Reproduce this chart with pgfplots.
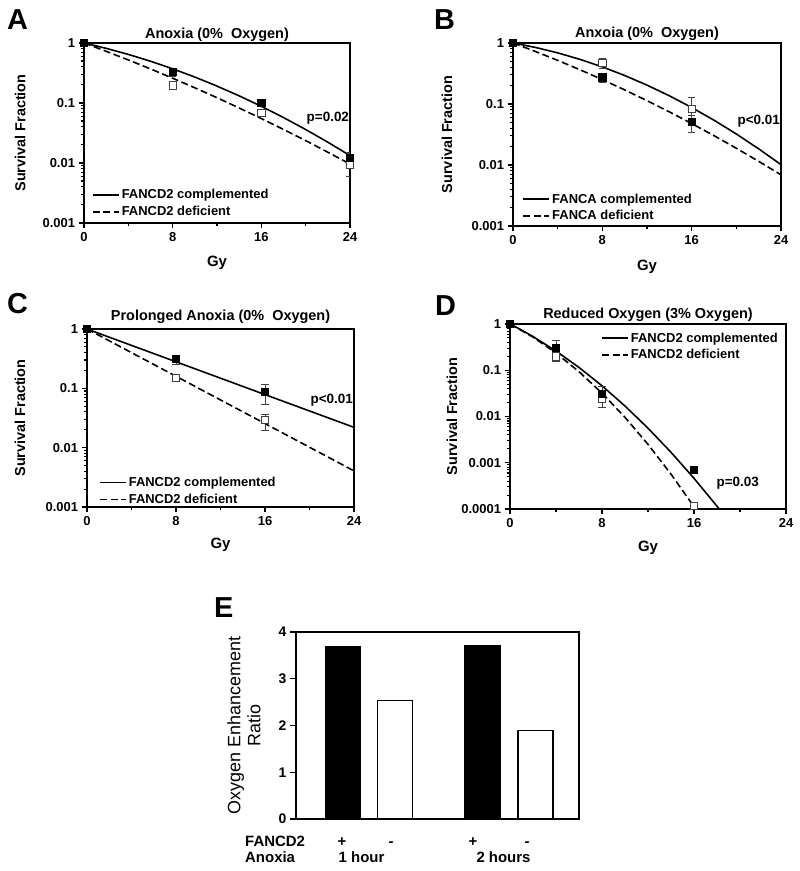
\documentclass[border=0pt]{standalone}
\usepackage{pgfplots}
\pgfplotsset{compat=1.18}
\usepackage{fontspec}
\setmainfont{Liberation Sans}

\pgfplotsset{
 every axis title shift=0pt,
 solidc/.style={black, line width=1.6pt, no marks},
 dashc/.style={black, line width=1.6pt, no marks, dash pattern=on 7bp off 3.5bp},
}

\begin{document}
\begin{tikzpicture}[x=1bp,y=1bp]
\useasboundingbox (0,0) rectangle (800,871);

% ---------------- A ----------------
\begin{axis}[scale only axis, anchor=north west, ymode=log, xmin=0, xmax=24,
  xtick={0,8,16,24}, xticklabels={\textbf{0},\textbf{8},\textbf{16},\textbf{24}}, minor xtick={4,12,20},
  tick align=outside, xtick pos=bottom, ytick pos=left,
  major tick length=5.5bp, minor tick length=3.5bp,
  axis line style={line width=1.5pt},
  every tick/.append style={line width=1.1pt, black},
  tick label style={font=\fontsize{13}{14}\selectfont\bfseries},
  xlabel={Gy}, ylabel={Survival Fraction},
  xlabel style={font=\fontsize{15}{16}\selectfont\bfseries, anchor=center},
  ylabel style={font=\fontsize{14.5}{16}\selectfont\bfseries, anchor=center},
  title style={font=\fontsize{14.5}{16}\selectfont\bfseries, anchor=center, yshift=0pt},
  legend style={draw=none, fill=none, font=\fontsize{13}{15}\selectfont\bfseries, inner sep=0pt, row sep=2pt},
  legend cell align=left, legend image post style={xscale=1.53},
 at={(84bp,828bp)}, width=266bp, height=180bp,
 ymin=0.001, ymax=1, ytick={0.001,0.01,0.1,1}, yticklabels={\textbf{0.001},\textbf{0.01},\textbf{0.1},\textbf{1}},
 title={Anoxia (0\%\ \ Oxygen)}, title style={at={(rel axis cs:0.5,1.045)}},
 xlabel style={at={(rel axis cs:0.5,-0.222)}},
 ylabel style={at={(rel axis cs:-0.24,0.5)}},
 legend style={at={(rel axis cs:0.03,0.02)}, anchor=south west}]
\addplot[solidc] coordinates {(0,1) (2,0.814) (4,0.645) (6,0.4965) (8,0.3716) (10,0.2704) (12,0.1913) (14,0.1315) (16,0.0880) (18,0.0572) (20,0.0361) (22,0.0222) (24,0.01327)};
\addlegendentry{FANCD2 complemented}
\addplot[dashc] coordinates {(0,1) (2,0.7268) (4,0.5216) (6,0.3698) (8,0.2588) (10,0.1791) (12,0.1224) (14,0.0825) (16,0.0550) (18,0.0362) (20,0.0236) (22,0.01512) (24,0.0096)};
\addlegendentry{FANCD2 deficient}
\addplot[forget plot, only marks, mark=square*, mark size=3.6bp, mark options={fill=white, draw=black!75, line width=0.8pt, solid},
   error bars/.cd, y dir=both, y explicit, error bar style={black!75, line width=0.8pt}]
   table[x=x, y=y, y error plus=ep, y error minus=em] {
x y ep em
0 1 0 0
8 0.197 0.02 0.02
16 0.068 0.006 0.006
24 0.0095 0.005 0.0035
};
\addplot[forget plot, only marks, mark=square*, mark size=3.6bp, mark options={fill=black, draw=black, line width=0.6pt, solid},
   error bars/.cd, y dir=both, y explicit, error bar style={black!75, line width=0.8pt}]
   table[x=x, y=y, y error plus=ep, y error minus=em] {
x y ep em
0 1 0 0
8 0.33 0.05 0.05
16 0.10 0.01 0.01
24 0.0123 0.003 0.003
};
\node[font=\fontsize{13.5}{15}\selectfont\bfseries] at (axis cs:22,0.056) {p=0.02};
\end{axis}

% ---------------- B ----------------
\begin{axis}[scale only axis, anchor=north west, ymode=log, xmin=0, xmax=24,
  xtick={0,8,16,24}, xticklabels={\textbf{0},\textbf{8},\textbf{16},\textbf{24}}, minor xtick={4,12,20},
  tick align=outside, xtick pos=bottom, ytick pos=left,
  major tick length=5.5bp, minor tick length=3.5bp,
  axis line style={line width=1.5pt},
  every tick/.append style={line width=1.1pt, black},
  tick label style={font=\fontsize{13}{14}\selectfont\bfseries},
  xlabel={Gy}, ylabel={Survival Fraction},
  xlabel style={font=\fontsize{15}{16}\selectfont\bfseries, anchor=center},
  ylabel style={font=\fontsize{14.5}{16}\selectfont\bfseries, anchor=center},
  title style={font=\fontsize{14.5}{16}\selectfont\bfseries, anchor=center, yshift=0pt},
  legend style={draw=none, fill=none, font=\fontsize{13}{15}\selectfont\bfseries, inner sep=0pt, row sep=2pt},
  legend cell align=left, legend image post style={xscale=1.53},
 at={(513bp,828bp)}, width=268bp, height=183bp,
 ymin=0.001, ymax=1, ytick={0.001,0.01,0.1,1}, yticklabels={\textbf{0.001},\textbf{0.01},\textbf{0.1},\textbf{1}},
 title={Anxoia (0\%\ \ Oxygen)}, title style={at={(rel axis cs:0.5,1.05)}},
 xlabel style={at={(rel axis cs:0.5,-0.224)}},
 ylabel style={at={(rel axis cs:-0.246,0.5)}},
 legend style={at={(rel axis cs:0.035,0.013)}, anchor=south west}]
\addplot[solidc] coordinates {(0,1) (2,0.8462) (4,0.6887) (6,0.5385) (8,0.4053) (10,0.2931) (12,0.2038) (14,0.1363) (16,0.08763) (18,0.05418) (20,0.03221) (22,0.01841) (24,0.01012)};
\addlegendentry{FANCA complemented}
\addplot[dashc] coordinates {(0,1) (2,0.7266) (4,0.5188) (6,0.3640) (8,0.2511) (10,0.1702) (12,0.1134) (14,0.0743) (16,0.04779) (18,0.03023) (20,0.01879) (22,0.01148) (24,0.0069)};
\addlegendentry{FANCA deficient}
\addplot[forget plot, only marks, mark=square*, mark size=3.6bp, mark options={fill=white, draw=black!75, line width=0.8pt, solid},
   error bars/.cd, y dir=both, y explicit, error bar style={black!75, line width=0.8pt}]
   table[x=x, y=y, y error plus=ep, y error minus=em] {
x y ep em
0 1 0 0
8 0.47 0.1 0.09
16 0.083 0.046 0.035
};
\addplot[forget plot, only marks, mark=square*, mark size=3.6bp, mark options={fill=black, draw=black, line width=0.6pt, solid},
   error bars/.cd, y dir=both, y explicit, error bar style={black!75, line width=0.8pt}]
   table[x=x, y=y, y error plus=ep, y error minus=em] {
x y ep em
0 1 0 0
8 0.274 0.05 0.045
16 0.0516 0.015 0.017
};
\node[font=\fontsize{13.5}{15}\selectfont\bfseries] at (axis cs:22,0.052) {p<0.01};
\end{axis}

% ---------------- C ----------------
\begin{axis}[scale only axis, anchor=north west, ymode=log, xmin=0, xmax=24,
  xtick={0,8,16,24}, xticklabels={\textbf{0},\textbf{8},\textbf{16},\textbf{24}}, minor xtick={4,12,20},
  tick align=outside, xtick pos=bottom, ytick pos=left,
  major tick length=5.5bp, minor tick length=3.5bp,
  axis line style={line width=1.5pt},
  every tick/.append style={line width=1.1pt, black},
  tick label style={font=\fontsize{13}{14}\selectfont\bfseries},
  xlabel={Gy}, ylabel={Survival Fraction},
  xlabel style={font=\fontsize{15}{16}\selectfont\bfseries, anchor=center},
  ylabel style={font=\fontsize{14.5}{16}\selectfont\bfseries, anchor=center},
  title style={font=\fontsize{14.5}{16}\selectfont\bfseries, anchor=center, yshift=0pt},
  legend style={draw=none, fill=none, font=\fontsize{13}{15}\selectfont\bfseries, inner sep=0pt, row sep=2pt},
  legend cell align=left, legend image post style={xscale=1.53},
 at={(87bp,542bp)}, width=267bp, height=178bp,
 ymin=0.001, ymax=1, ytick={0.001,0.01,0.1,1}, yticklabels={\textbf{0.001},\textbf{0.01},\textbf{0.1},\textbf{1}},
 title={Prolonged Anoxia (0\%\ \ Oxygen)}, title style={at={(rel axis cs:0.5,1.07)}},
 xlabel style={at={(rel axis cs:0.5,-0.213)}},
 ylabel style={at={(rel axis cs:-0.251,0.5)}},
 legend style={at={(rel axis cs:0.045,0.0)}, anchor=south west}]
\addplot[solidc] coordinates {(0,1) (8,0.280) (16,0.0784) (24,0.022)};
\addlegendentry{FANCD2 complemented}
\addplot[dashc] coordinates {(0,1) (8,0.1596) (16,0.02547) (24,0.00406)};
\addlegendentry{FANCD2 deficient}
\addplot[forget plot, only marks, mark=square*, mark size=3.6bp, mark options={fill=white, draw=black!75, line width=0.8pt, solid},
   error bars/.cd, y dir=both, y explicit, error bar style={black!75, line width=0.8pt}]
   table[x=x, y=y, y error plus=ep, y error minus=em] {
x y ep em
0 1 0 0
8 0.148 0.01 0.01
16 0.029 0.008 0.009
};
\addplot[forget plot, only marks, mark=square*, mark size=3.6bp, mark options={fill=black, draw=black, line width=0.6pt, solid},
   error bars/.cd, y dir=both, y explicit, error bar style={black!75, line width=0.8pt}]
   table[x=x, y=y, y error plus=ep, y error minus=em] {
x y ep em
0 1 0 0
8 0.31 0.05 0.05
16 0.087 0.03 0.032
};
\node[font=\fontsize{13.5}{15}\selectfont\bfseries] at (axis cs:22,0.0636) {p<0.01};
\end{axis}

% ---------------- D ----------------
\begin{axis}[scale only axis, anchor=north west, ymode=log, xmin=0, xmax=24,
  xtick={0,8,16,24}, xticklabels={\textbf{0},\textbf{8},\textbf{16},\textbf{24}}, minor xtick={4,12,20},
  tick align=outside, xtick pos=bottom, ytick pos=left,
  major tick length=5.5bp, minor tick length=3.5bp,
  axis line style={line width=1.5pt},
  every tick/.append style={line width=1.1pt, black},
  tick label style={font=\fontsize{13}{14}\selectfont\bfseries},
  xlabel={Gy}, ylabel={Survival Fraction},
  xlabel style={font=\fontsize{15}{16}\selectfont\bfseries, anchor=center},
  ylabel style={font=\fontsize{14.5}{16}\selectfont\bfseries, anchor=center},
  title style={font=\fontsize{14.5}{16}\selectfont\bfseries, anchor=center, yshift=0pt},
  legend style={draw=none, fill=none, font=\fontsize{13}{15}\selectfont\bfseries, inner sep=0pt, row sep=2pt},
  legend cell align=left, legend image post style={xscale=1.53},
 at={(510bp,547bp)}, width=276bp, height=185bp,
 ymin=0.0001, ymax=1, ytick={0.0001,0.001,0.01,0.1,1}, yticklabels={\textbf{0.0001},\textbf{0.001},\textbf{0.01},\textbf{0.1},\textbf{1}},
 title={Reduced Oxygen (3\% Oxygen)}, title style={at={(rel axis cs:0.5,1.05)}},
 xlabel style={at={(rel axis cs:0.5,-0.21)}},
 ylabel style={at={(rel axis cs:-0.21,0.5)}},
 legend style={at={(rel axis cs:0.978,0.965)}, anchor=north east}]
\addplot[solidc] coordinates {(0,1) (1,0.7401) (2,0.5348) (4,0.2600) (6,0.1149) (8,0.04611) (10,0.01683) (12,0.005581) (14,0.001681) (16,0.0004606) (18,0.0001147) (18.5,0.0000798)};
\addlegendentry{FANCD2 complemented}
\addplot[dashc] coordinates {(0,1) (2,0.5202) (4,0.2357) (6,0.0930) (8,0.03198) (10,0.00957) (12,0.002496) (14,0.000567) (16,0.0001121)};
\addlegendentry{FANCD2 deficient}
\addplot[forget plot, only marks, mark=square*, mark size=3.6bp, mark options={fill=white, draw=black!75, line width=0.8pt, solid},
   error bars/.cd, y dir=both, y explicit, error bar style={black!75, line width=0.8pt}]
   table[x=x, y=y, y error plus=ep, y error minus=em] {
x y ep em
0 1 0 0
4 0.20 0.05 0.04
8 0.024 0.011 0.008
16 0.000118 0 0
};
\addplot[forget plot, only marks, mark=square*, mark size=3.6bp, mark options={fill=black, draw=black, line width=0.6pt, solid},
   error bars/.cd, y dir=both, y explicit, error bar style={black!75, line width=0.8pt}]
   table[x=x, y=y, y error plus=ep, y error minus=em] {
x y ep em
0 1 0 0
4 0.30 0.14 0.10
8 0.0305 0.015 0.01
16 0.00069 0 0
};
\node[font=\fontsize{13.5}{15}\selectfont\bfseries] at (axis cs:19.8,0.00036) {p=0.03};
\end{axis}

% ---------------- E ----------------
\begin{axis}[scale only axis, anchor=north west, at={(296bp,239bp)}, width=283bp, height=187bp,
 xmin=0, xmax=10, ymin=0, ymax=4, xtick=\empty, ytick={0,1,2,3,4},
 yticklabels={\textbf{0},\textbf{1},\textbf{2},\textbf{3},\textbf{4}},
 tick align=outside, ytick pos=left, major tick length=6bp,
 axis line style={line width=1.5pt}, every tick/.append style={line width=1.2pt, black},
 tick label style={font=\fontsize{14}{15}\selectfont\bfseries},
 ylabel={Oxygen Enhancement\\Ratio},
 ylabel style={align=center, font=\fontsize{18}{20}\selectfont, at={(rel axis cs:-0.184,0.5)}, anchor=center}]
\addplot[ybar, bar width=35bp, bar shift=0pt, fill=black, draw=black, line width=1.3pt] coordinates {(1.65,3.68) (6.59,3.715)};
\addplot[ybar, bar width=35bp, bar shift=0pt, fill=white, draw=black, line width=1.3pt] coordinates {(3.49,2.54) (8.46,1.90)};
\end{axis}

% panel letters
\node[anchor=base west, inner sep=0, font=\fontsize{29}{30}\selectfont\bfseries] at (7,841) {A};
\node[anchor=base west, inner sep=0, font=\fontsize{29}{30}\selectfont\bfseries] at (434,841) {B};
\node[anchor=base west, inner sep=0, font=\fontsize{29}{30}\selectfont\bfseries] at (7,557) {C};
\node[anchor=base west, inner sep=0, font=\fontsize{29}{30}\selectfont\bfseries] at (435,555) {D};
\node[anchor=base west, inner sep=0, font=\fontsize{29}{30}\selectfont\bfseries] at (214,253) {E};

% E bottom labels
\begin{scope}[every node/.style={inner sep=0, font=\fontsize{15}{16}\selectfont\bfseries}]
\node[anchor=base west] at (245,24) {FANCD2};
\node[anchor=base west] at (245,8) {Anoxia};
\node[anchor=base] at (342,24) {+};
\node[anchor=base] at (391,24) {-};
\node[anchor=base] at (473,24) {+};
\node[anchor=base] at (527,24) {-};
\node[anchor=base] at (361.5,8) {1 hour};
\node[anchor=base] at (503.5,8) {2 hours};
\end{scope}
\end{tikzpicture}
\end{document}
